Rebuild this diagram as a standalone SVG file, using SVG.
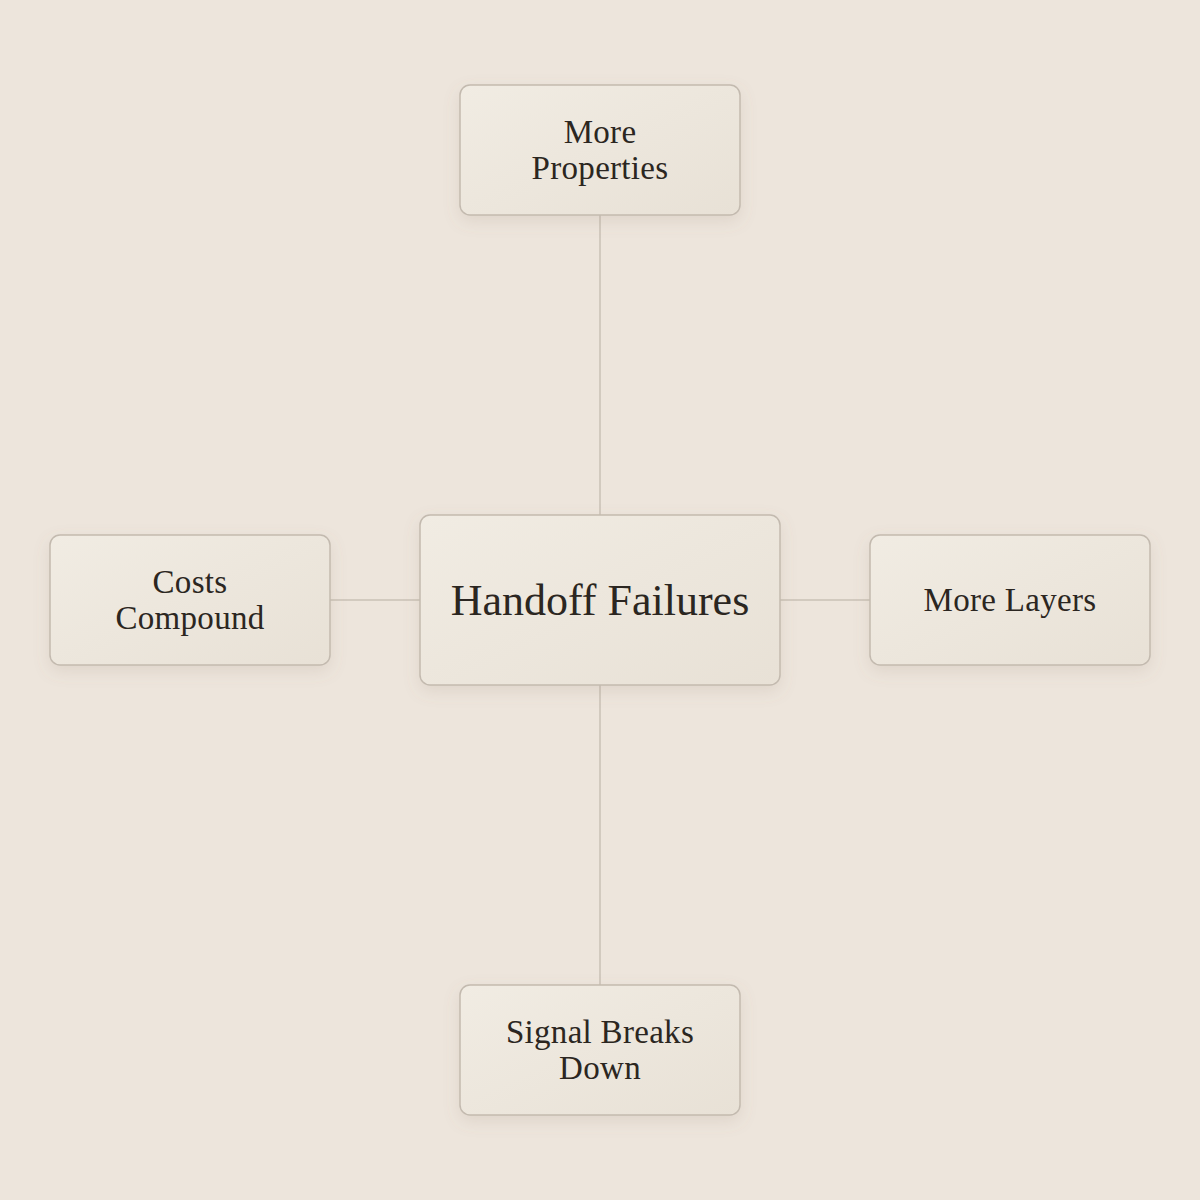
<svg xmlns="http://www.w3.org/2000/svg" width="1200" height="1200" viewBox="0 0 1200 1200">
<style>
.node rect{fill:url(#g);stroke:#C3BAAF;stroke-width:1.5;filter:url(#sh)}
.node text{font-family:"Liberation Serif","DejaVu Serif",serif;fill:#2B2621;text-anchor:middle;font-size:33px;letter-spacing:0.3px}
.node text.big{font-size:44px;letter-spacing:0}
.conn line{stroke:#C8C0B6;stroke-width:1.5}
</style>
<defs>
<linearGradient id="g" x1="0" y1="0" x2="1" y2="1">
<stop offset="0" stop-color="#F1ECE3"/>
<stop offset="1" stop-color="#E8E1D6"/>
</linearGradient>
<filter id="sh" x="-20%" y="-20%" width="140%" height="150%">
<feDropShadow dx="0" dy="6" stdDeviation="8" flood-color="#8A7A66" flood-opacity="0.15"/>
</filter>
</defs>
<rect width="1200" height="1200" fill="#EDE5DC"/>
<g id="connectors" class="conn">
<line x1="600" y1="215" x2="600" y2="515"/>
<line x1="600" y1="685" x2="600" y2="985"/>
<line x1="330" y1="600" x2="420" y2="600"/>
<line x1="780" y1="600" x2="870" y2="600"/>
</g>
<g id="center" class="node">
<rect x="420" y="515" width="360" height="170" rx="10"/>
<text class="big" x="600" y="615">Handoff Failures</text>
</g>
<g id="top" class="node">
<rect x="460" y="85" width="280" height="130" rx="10"/>
<text x="600" y="143">More</text>
<text x="600" y="179">Properties</text>
</g>
<g id="left" class="node">
<rect x="50" y="535" width="280" height="130" rx="10"/>
<text x="190" y="593">Costs</text>
<text x="190" y="629">Compound</text>
</g>
<g id="right" class="node">
<rect x="870" y="535" width="280" height="130" rx="10"/>
<text x="1010" y="611">More Layers</text>
</g>
<g id="bottom" class="node">
<rect x="460" y="985" width="280" height="130" rx="10"/>
<text x="600" y="1043">Signal Breaks</text>
<text x="600" y="1079">Down</text>
</g>
</svg>
